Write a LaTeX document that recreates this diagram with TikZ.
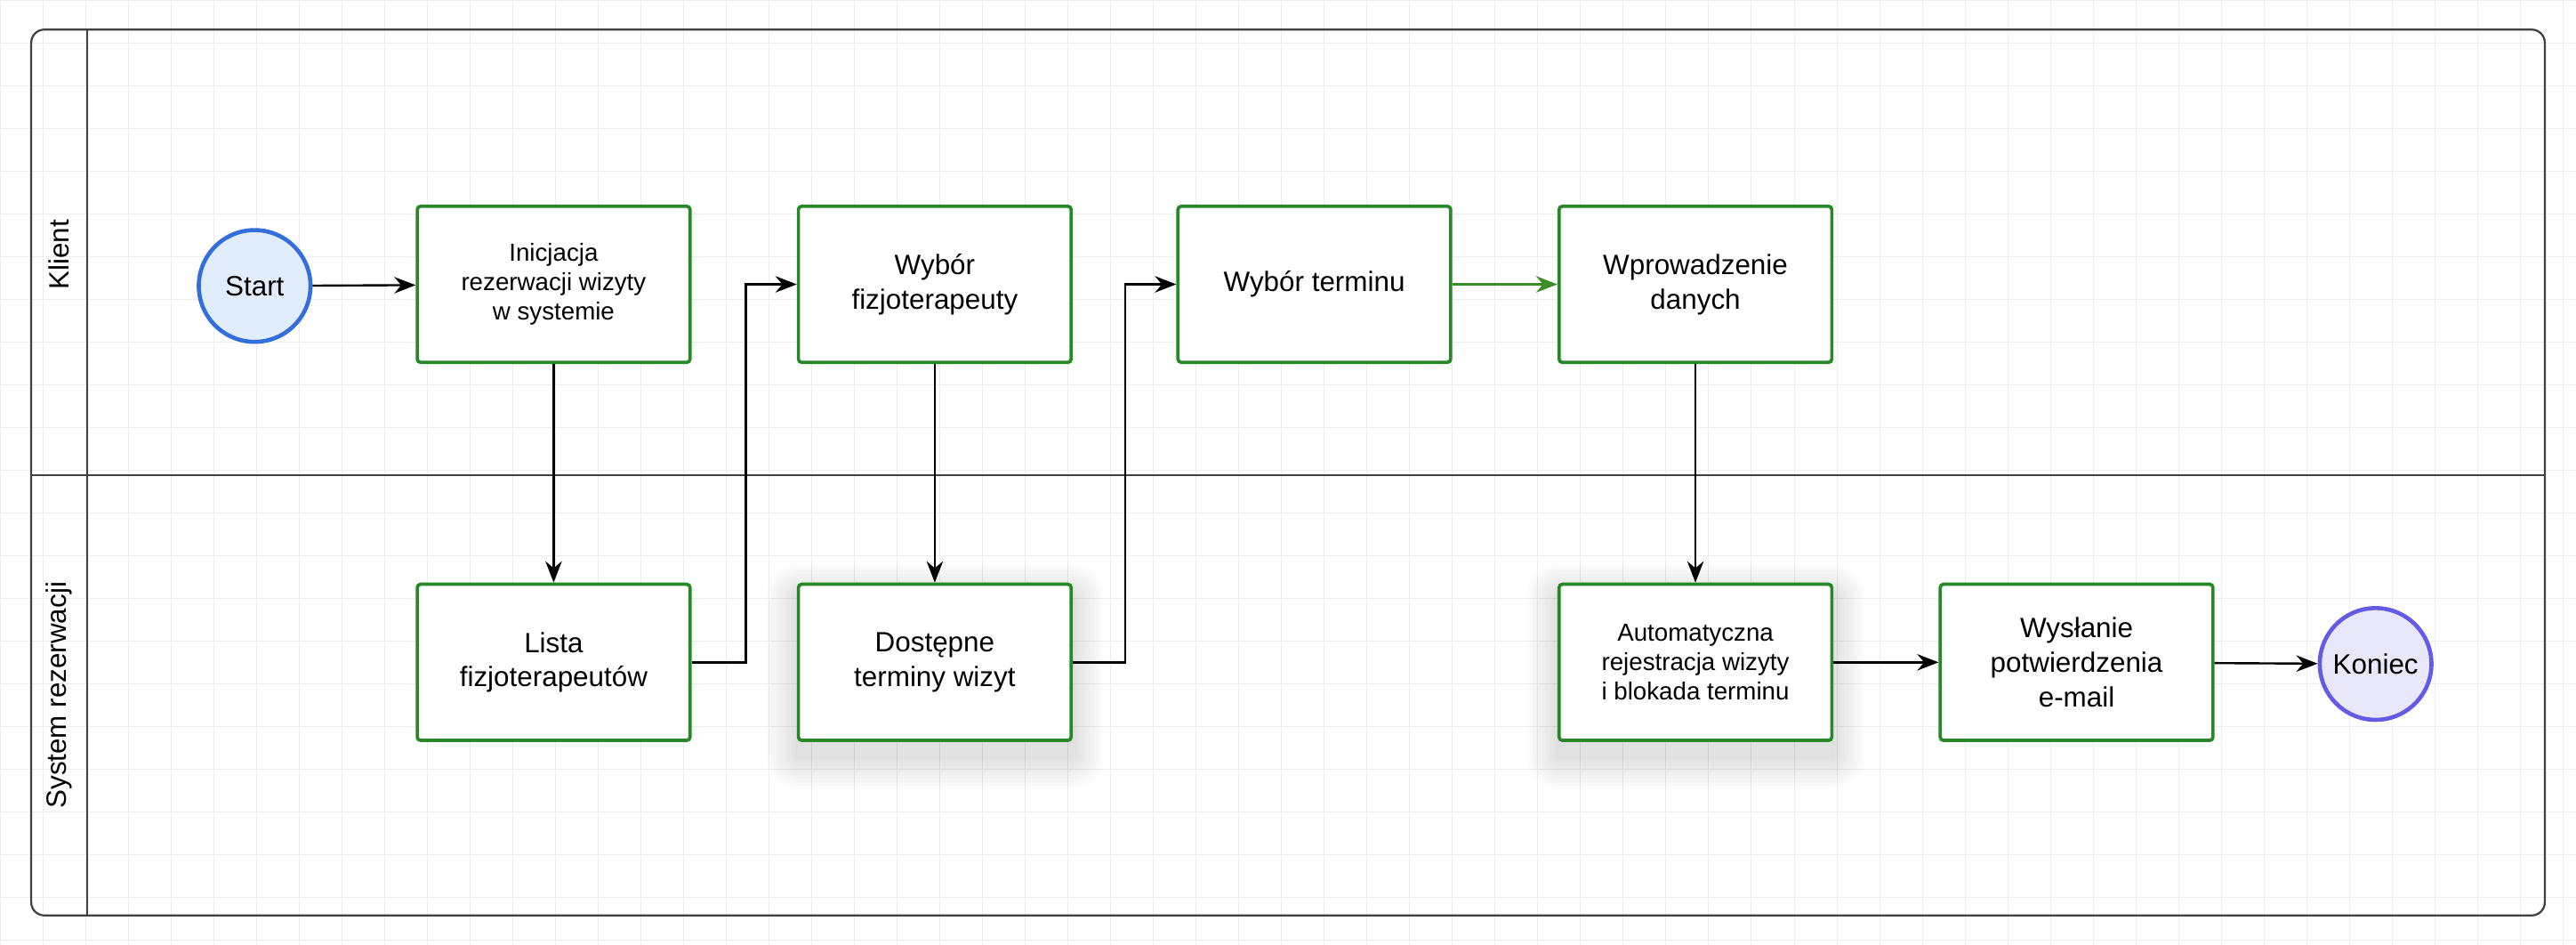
\documentclass[tikz,border=0pt]{standalone}
\usepackage{fontspec}
\setmainfont{Liberation Sans}
\usetikzlibrary{arrows.meta}
\begin{document}
\begin{tikzpicture}[x=1pt,y=-1pt,
  box/.style={draw=green!45!black!85, line width=2pt, fill=white, rounded corners=2pt, minimum width=166pt, minimum height=95pt, align=center, font=\fontsize{15}{18}\selectfont},
  bigbox/.style={box, font=\fontsize{17}{21}\selectfont},
  circ/.style={circle, line width=2.5pt, minimum size=68pt, inner sep=0pt, font=\fontsize{17}{20}\selectfont},
  arr/.style={-{Stealth[length=13pt,width=10pt]}, line width=1.3pt}]
\useasboundingbox (0,0) rectangle (1568,575);
\fill[white] (0,0) rectangle (1568,575);
\draw[black!7, step=26pt] (0,0) grid (1568,575);
\draw[black!75, line width=1.2pt, rounded corners=8pt] (19,18) rectangle (1549,557);
\draw[black!75, line width=1.2pt] (53,18) -- (53,557);
\draw[black!75, line width=1.2pt] (19,289) -- (1549,289);
\foreach \cx in {569,1032}{
  \foreach \i in {2,4,...,20}{
    \fill[black, opacity=0.012, rounded corners=\i pt] (\cx-83-\i,355+8-\i) rectangle (\cx+83+\i,450+10+\i);
  }
}
\node[rotate=90, font=\fontsize{17}{20}\selectfont] (l1) at (36,155) {Klient};
\node[rotate=90, font=\fontsize{17}{20}\selectfont] (l2) at (36,423) {System rezerwacji};
\node[circ, draw={rgb,255:red,50;green,110;blue,220}, fill={rgb,255:red,225;green,236;blue,252}] (s) at (155,174) {Start};
\node[box] (a) at (337,173) {Inicjacja\\rezerwacji wizyty\\w systemie};
\node[bigbox] (b) at (569,173) {Wybór\\fizjoterapeuty};
\node[bigbox] (c) at (800,173) {Wybór terminu};
\node[bigbox] (d) at (1032,173) {Wprowadzenie\\danych};
\node[bigbox] (e) at (337,403) {Lista\\fizjoterapeutów};
\node[bigbox] (f) at (569,403) {Dostępne\\terminy wizyt};
\node[box] (g) at (1032,403) {Automatyczna\\rejestracja wizyty\\i blokada terminu};
\node[bigbox] (h) at (1264,403) {Wysłanie\\potwierdzenia\\e-mail};
\node[circ, draw={rgb,255:red,100;green,90;blue,230}, fill={rgb,255:red,232;green,232;blue,250}] (k) at (1446,404) {Koniec};
\draw[arr] (s) -- (a);
\draw[arr] (a) -- (e);
\draw[arr] (e.east) -- (454,403) -- (454,173) -- (b.west);
\draw[arr] (b) -- (f);
\draw[arr] (f.east) -- (685,403) -- (685,173) -- (c.west);
\draw[arr, draw={rgb,255:red,60;green,140;blue,40}, fill={rgb,255:red,60;green,140;blue,40}] (c) -- (d);
\draw[arr] (d) -- (g);
\draw[arr] (g) -- (h);
\draw[arr] (h) -- (k);
\end{tikzpicture}
\end{document}
